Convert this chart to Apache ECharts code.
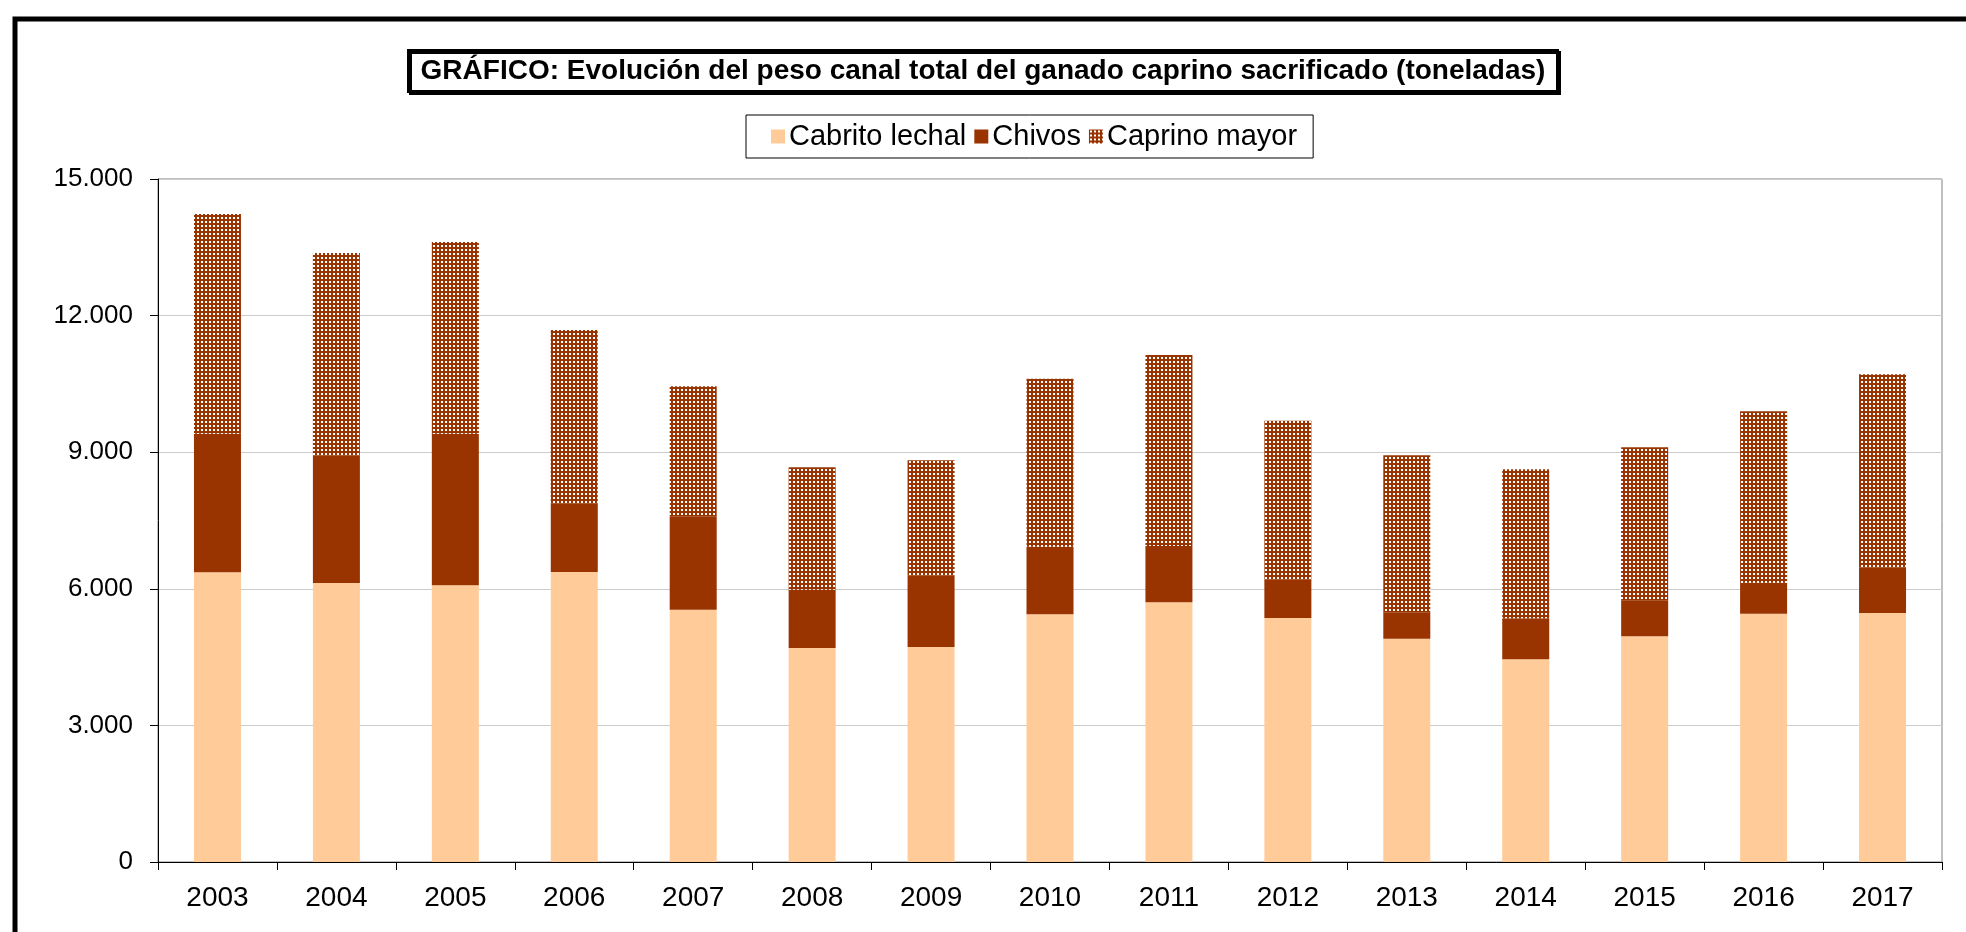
<!DOCTYPE html>
<html>
<head>
<meta charset="utf-8">
<script src="https://cdn.jsdelivr.net/npm/echarts@6/dist/echarts.min.js"></script>
<style>
  html, body { margin: 0; padding: 0; background: #fff; }
  #chart { width: 1966px; height: 932px; }
</style>
</head>
<body>
<div id="chart"></div>
<script>
// años
var years = ["2003", "2004", "2005", "2006", "2007", "2008", "2009", "2010", "2011", "2012", "2013", "2014", "2015", "2016", "2017"];
// toneladas por categoría
var cabritoLechal = [6362, 6127, 6077, 6369, 5542, 4700, 4722, 5439, 5703, 5359, 4905, 4451, 4956, 5454, 5468];
var chivos = [3044, 2796, 3329, 1500, 2049, 1281, 1566, 1486, 1237, 841, 578, 900, 783, 681, 996];
var caprinoMayor = [4825, 4452, 4210, 3815, 2856, 2687, 2534, 3690, 4195, 3492, 3448, 3273, 3368, 3762, 4246];
var seriesNames = ["Cabrito lechal", "Chivos", "Caprino mayor"];
var titleText = "GRÁFICO: Evolución del peso canal total del ganado caprino sacrificado (toneladas)";

// trama punteada para "Caprino mayor"
function makeDots() {
  var c = document.createElement("canvas");
  c.width = 4; c.height = 4;
  var ctx = c.getContext("2d");
  ctx.fillStyle = "#993300";
  ctx.fillRect(0, 0, 4, 4);
  ctx.fillStyle = "#ffffff";
  ctx.fillRect(1, 1, 2, 2);
  return c;
}
var dots = { image: makeDots(), repeat: "repeat" };

var font = "Liberation Sans, Arial, sans-serif";

function miles(v) {
  return String(v).replace(/\B(?=(\d{3})+(?!\d))/g, ".");
}

var myChart = echarts.init(document.getElementById("chart"));
var option = {
  backgroundColor: "#fff",
  animation: false,
  textStyle: { fontFamily: font, color: "#000" },
  title: {
    text: titleText,
    left: "center",
    top: 50,
    padding: [7, 12, 7, 12],
    borderColor: "#000",
    borderWidth: 3,
    shadowColor: "#000",
    shadowOffsetX: 2,
    shadowOffsetY: 2,
    shadowBlur: 0,
    textStyle: { fontFamily: font, fontSize: 28, fontWeight: "bold", color: "#000" }
  },
  legend: {
    data: seriesNames,
    left: 746,
    top: 115,
    padding: [7, 16, 7, 25],
    itemWidth: 14,
    itemHeight: 14,
    itemGap: 8,
    borderColor: "#000",
    borderWidth: 1,
    icon: "rect",
    textStyle: { fontFamily: font, fontSize: 29, color: "#000", padding: [0, 0, 0, -1] }
  },
  graphic: [
    {
      type: "rect",
      shape: { x: 15, y: 19, width: 2100, height: 1100 },
      style: { fill: null, stroke: "#000", lineWidth: 5 },
      silent: true
    }
  ],
  grid: {
    left: 158,
    right: 24,
    top: 179,
    bottom: 70,
    show: true,
    borderColor: "#808080",
    borderWidth: 1
  },
  xAxis: {
    type: "category",
    data: years,
    axisLine: { lineStyle: { color: "#000", width: 1 } },
    axisTick: { show: true, length: 8, lineStyle: { color: "#000" } },
    axisLabel: { fontFamily: font, fontSize: 28, color: "#000", margin: 22 }
  },
  yAxis: {
    type: "value",
    min: 0,
    max: 15000,
    interval: 3000,
    axisLine: { show: true, lineStyle: { color: "#000", width: 1 } },
    axisTick: { show: true, length: 8, lineStyle: { color: "#000" } },
    splitLine: { lineStyle: { color: "#cccccc", width: 1 } },
    axisLabel: {
      fontFamily: font, fontSize: 26, color: "#000", margin: 25,
      formatter: function (v) { return miles(v); }
    }
  },
  series: [
    {
      name: seriesNames[0],
      type: "bar",
      stack: "total",
      barWidth: 47,
      data: cabritoLechal,
      itemStyle: { color: "#FFCC99" }
    },
    {
      name: seriesNames[1],
      type: "bar",
      stack: "total",
      barWidth: 47,
      data: chivos,
      itemStyle: { color: "#993300" }
    },
    {
      name: seriesNames[2],
      type: "bar",
      stack: "total",
      barWidth: 47,
      data: caprinoMayor,
      itemStyle: { color: dots }
    }
  ]
};
myChart.setOption(option);
</script>
</body>
</html>
